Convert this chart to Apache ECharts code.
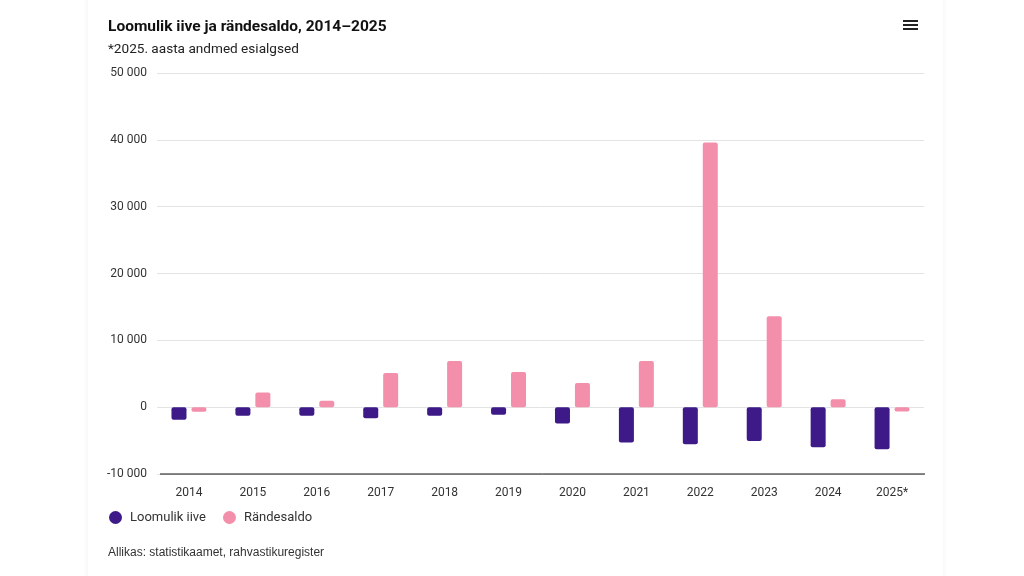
<!DOCTYPE html>
<html>
<head>
<meta charset="utf-8">
<script src="https://cdn.jsdelivr.net/npm/echarts@6/dist/echarts.min.js"></script>
<style>
html,body{margin:0;padding:0;background:#fff;width:1024px;height:576px;overflow:hidden;}
#card{position:absolute;left:88px;top:-10px;width:855px;height:600px;background:#fff;box-shadow:0 0 6px rgba(0,0,0,0.06);}
#chart{position:absolute;left:0;top:0;width:1024px;height:576px;}
</style>
</head>
<body>
<div id="card"></div>
<div id="chart"></div>
<script>
const categories = ['2014','2015','2016','2017','2018','2019','2020','2021','2022','2023','2024','2025*'];
const loomulikIive = [-1900,-1300,-1300,-1650,-1300,-1150,-2450,-5300,-5550,-5050,-6000,-6300];
const randesaldo = [-700,2200,950,5100,6900,5250,3600,6900,39600,13600,1200,-650];
const yTicks = {min:-10000, max:50000, interval:10000};

const fmt = v => {
  const s = Math.abs(v).toString().replace(/\B(?=(\d{3})+(?!\d))/g, ' ');
  return (v < 0 ? '-' : '') + s;
};

const chart = echarts.init(document.getElementById('chart'), null, {renderer:'canvas'});
const font = 'Roboto, "Noto Sans", sans-serif';
chart.setOption({
  backgroundColor:'transparent',
  textStyle:{fontFamily:font},
  title:{
    text:'Loomulik iive ja rändesaldo, 2014–2025',
    subtext:'*2025. aasta andmed esialgsed',
    left:108, top:19, padding:0,
    itemGap:8,
    textStyle:{fontSize:15.5, fontWeight:'bold', color:'#111', fontFamily:font},
    subtextStyle:{fontSize:13.6, color:'#222', fontFamily:font}
  },
  legend:{
    left:109, top:511, padding:0,
    icon:'circle', itemWidth:13, itemHeight:13, itemGap:17,
    textStyle:{fontSize:13, color:'#333', fontFamily:font, padding:[0,0,0,3]},
    data:['Loomulik iive','Rändesaldo']
  },
  grid:{left:157, right:100, top:73, bottom:102},
  xAxis:{
    type:'category', data:categories,
    axisLine:{show:false},
    axisTick:{show:false},
    axisLabel:{fontSize:12, color:'#333', margin:13, fontFamily:font}
  },
  yAxis:{
    type:'value', min:yTicks.min, max:yTicks.max, interval:yTicks.interval,
    axisLabel:{fontSize:12, color:'#333', margin:10, formatter:fmt, fontFamily:font},
    splitLine:{lineStyle:{color:'#e3e3e3', width:1}},
    axisLine:{show:false}, axisTick:{show:false}
  },
  graphic:[
    {type:'line', shape:{x1:160,y1:474,x2:925,y2:474}, style:{stroke:'#111', lineWidth:1}, z:10},
    {type:'rect', shape:{x:903,y:20,width:15,height:2}, style:{fill:'#222'}},
    {type:'rect', shape:{x:903,y:24,width:15,height:2}, style:{fill:'#222'}},
    {type:'rect', shape:{x:903,y:28,width:15,height:2}, style:{fill:'#222'}},
    {type:'text', left:108, top:547, style:{text:'Allikas: statistikaamet, rahvastikuregister', fontSize:12, fill:'#333', font:'12px Roboto, sans-serif'}}
  ],
  series:[
    {name:'Loomulik iive', type:'bar', data:loomulikIive, barWidth:15, barGap:'33%',
     itemStyle:{color:'#3d1a87', borderRadius:2}},
    {name:'Rändesaldo', type:'bar', data:randesaldo, barWidth:15,
     itemStyle:{color:'#f48fab', borderRadius:2}}
  ]
});
</script>
</body>
</html>
